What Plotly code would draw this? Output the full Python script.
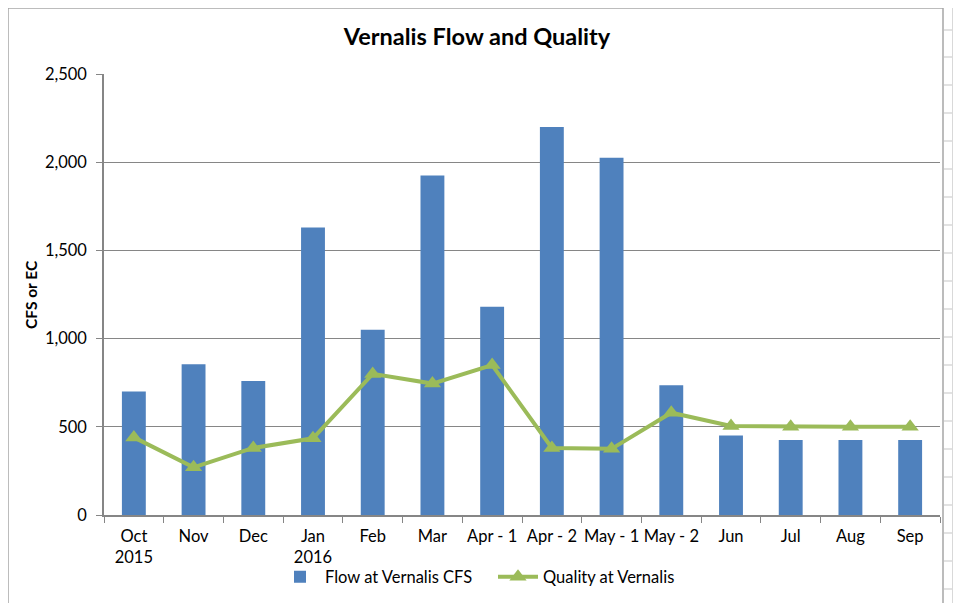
import plotly.graph_objects as go

categories = ["Oct<br>2015", "Nov", "Dec", "Jan<br>2016", "Feb", "Mar", "Apr - 1", "Apr - 2",
              "May - 1", "May - 2", "Jun", "Jul", "Aug", "Sep"]
flow_cfs = [700, 855, 760, 1630, 1050, 1925, 1180, 2200, 2025, 735, 450, 425, 425, 425]
quality_ec = [440, 270, 380, 435, 800, 745, 850, 380, 375, 580, 505, 500, 500, 500]
y_ticks = [0, 500, 1000, 1500, 2000, 2500]
y_tick_labels = ["0", "500", "1,000", "1,500", "2,000", "2,500"]

# page has an 8px body margin; compensate so screen positions match
OFF = 8
W, H = 961 - OFF, 603 - OFF
L, R, T, B = 104 - OFF, 21, 74 - OFF, 88
pw, ph = W - L - R, H - T - B

def px(xs):
    return (xs - OFF - L) / pw

def py(ys):
    return (H - B - (ys - OFF)) / ph

fig = go.Figure()
fig.add_trace(go.Bar(x=categories, y=flow_cfs, name="Flow at Vernalis CFS",
                     marker=dict(color="#4F81BD", line=dict(width=0))))
fig.add_trace(go.Scatter(x=categories, y=quality_ec, name="Quality at Vernalis",
                         mode="lines+markers",
                         line=dict(color="#9BBB59", width=4),
                         marker=dict(symbol="triangle-up", size=15, color="#9BBB59")))

shapes = [
    dict(type="rect", xref="paper", yref="paper", x0=px(8), x1=px(943), y0=py(8), y1=py(620),
         line=dict(color="#A6A6A6", width=1.5), fillcolor="rgba(0,0,0,0)", layer="below"),
    dict(type="line", xref="paper", yref="paper", x0=px(953), x1=px(953), y0=py(8), y1=py(603),
         line=dict(color="#D9D9D9", width=2)),
]
for yv in [30, 57, 85, 113, 141, 169, 197, 225, 253, 281, 309, 337, 365, 393, 421, 449, 477, 505, 533, 561, 589]:
    shapes.append(dict(type="line", xref="paper", yref="paper", x0=px(944), x1=px(961),
                       y0=py(yv), y1=py(yv), line=dict(color="#D9D9D9", width=1.5)))

fig.update_layout(
    width=W, height=H,
    margin=dict(l=L, r=R, t=T, b=B, autoexpand=False),
    paper_bgcolor="white", plot_bgcolor="white",
    font=dict(family="Lato, Carlito, Liberation Sans, sans-serif", size=16.5, color="#000000"),
    title=dict(text="<b>Vernalis Flow and Quality</b>", xref="container", x=(477 - OFF) / W,
               xanchor="center", yref="container",
               y=1 - (37 - OFF) / H, yanchor="middle", font=dict(size=23.5), automargin=False),
    bargap=0.6,
    showlegend=True,
    legend=dict(orientation="h", x=px(493), xanchor="center", y=py(577), yanchor="middle",
                font=dict(size=16.5), itemwidth=40, entrywidth=163, bgcolor="rgba(0,0,0,0)"),
    xaxis=dict(type="category", range=[-0.5, 13.5], showline=True, linecolor="#868686", linewidth=1.5,
               ticks="outside", tickson="boundaries", ticklen=6, tickcolor="#868686",
               showgrid=False, tickfont=dict(size=16.5), tickangle=0, automargin=False,
               ticklabelstandoff=5),
    yaxis=dict(range=[0, 2500], tickvals=y_ticks, ticktext=y_tick_labels,
               showline=True, linecolor="#868686", linewidth=1.5,
               ticks="outside", ticklen=6, tickcolor="#868686",
               showgrid=True, gridcolor="#868686", gridwidth=1.2, zeroline=False,
               tickfont=dict(size=16.5), automargin=False, ticklabelstandoff=6),
    annotations=[dict(text="<b>CFS or EC</b>", xref="paper", yref="paper",
                      x=px(31), y=py(295), textangle=-90, showarrow=False,
                      xanchor="center", yanchor="middle", font=dict(size=15.5))],
    shapes=shapes,
)

fig.write_html("out.html")
